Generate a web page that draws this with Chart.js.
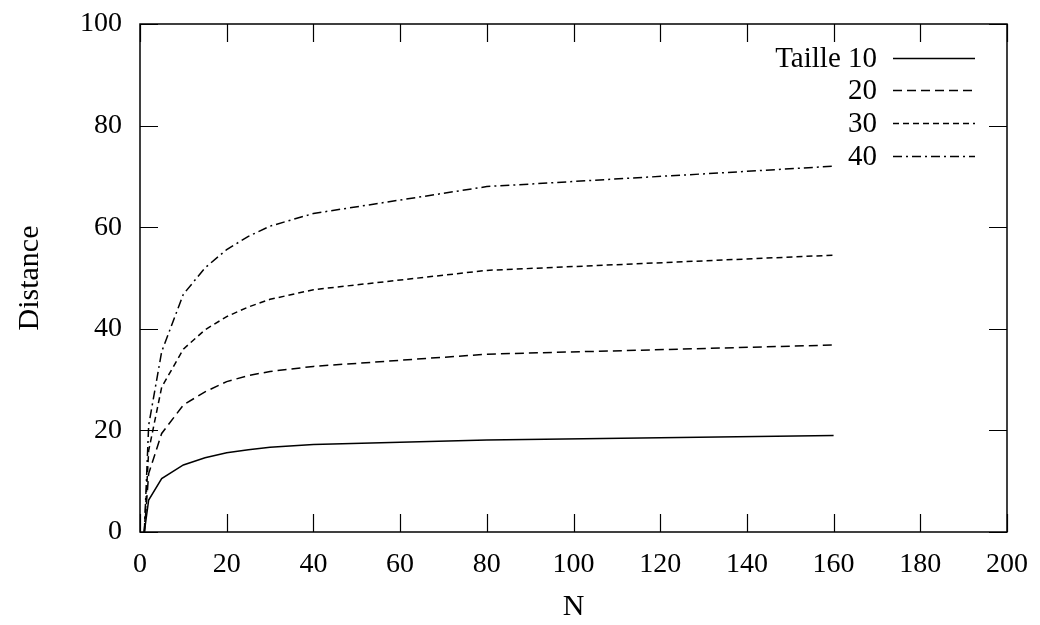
<!DOCTYPE html>
<html lang="fr">
<head>
<meta charset="UTF-8">
<title>Distance en fonction de N</title>
<script src="https://cdn.jsdelivr.net/npm/chart.js"></script>
<style>
  html, body { margin: 0; padding: 0; background: #fff; }
  #wrap { width: 1040px; height: 625px; }
</style>
</head>
<body>
<div id="wrap"><canvas id="plot"></canvas></div>
<script>
// valeurs
const N = [1, 2, 5, 10, 15, 20, 25, 30, 40, 80, 160];
const taille10 = [0, 6.3, 10.5, 13.2, 14.6, 15.6, 16.2, 16.7, 17.2, 18.1, 19.0];
const taille20 = [0, 11.5, 19.4, 25.0, 27.6, 29.6, 30.8, 31.6, 32.6, 35.0, 36.8];
const taille30 = [0, 16.0, 28.5, 36.0, 39.8, 42.4, 44.3, 45.8, 47.7, 51.5, 54.5];
const taille40 = [0, 21.0, 35.5, 46.8, 52.0, 55.6, 58.2, 60.2, 62.7, 68.0, 72.0];
const legendLabels = ['Taille 10', '20', '30', '40'];

const FONT = 'Liberation Serif';
const dashes = [[], [9, 5], [6, 4], [9, 4, 2, 4]];

function toPoints(ys) {
  return N.map((n, i) => ({ x: n, y: ys[i] }));
}

// cadre, graduations intérieures (façon gnuplot) et légende
const framePlugin = {
  id: 'frame',
  afterDraw(chart) {
    const ctx = chart.ctx;
    const a = chart.chartArea;
    const xs = chart.scales.x, ys = chart.scales.y;
    const tl = 18;
    ctx.save();
    ctx.strokeStyle = '#000';
    ctx.lineWidth = 1.2;
    ctx.beginPath();
    xs.ticks.forEach(t => {
      const px = Math.round(xs.getPixelForValue(t.value)) + 0.5;
      ctx.moveTo(px, a.bottom); ctx.lineTo(px, a.bottom - tl);
      ctx.moveTo(px, a.top); ctx.lineTo(px, a.top + tl);
    });
    ys.ticks.forEach(t => {
      const py = Math.round(ys.getPixelForValue(t.value)) + 0.5;
      ctx.moveTo(a.left, py); ctx.lineTo(a.left + tl, py);
      ctx.moveTo(a.right, py); ctx.lineTo(a.right - tl, py);
    });
    ctx.stroke();
    ctx.lineWidth = 1.5;
    ctx.strokeRect(a.left, a.top, a.right - a.left, a.bottom - a.top);

    // légende
    const rows = [58, 90, 123, 156];
    ctx.font = '29px "' + FONT + '"';
    ctx.fillStyle = '#000';
    ctx.textAlign = 'right';
    ctx.textBaseline = 'middle';
    chart.data.datasets.forEach((ds, i) => {
      const y = rows[i];
      ctx.fillText(legendLabels[i], 877, y + 1);
      ctx.beginPath();
      ctx.setLineDash(ds.borderDash || []);
      ctx.lineWidth = 1.5;
      ctx.moveTo(893, y + 0.5);
      ctx.lineTo(975, y + 0.5);
      ctx.stroke();
    });
    ctx.restore();
  }
};

const line = (data, i) => ({
  label: legendLabels[i],
  data: toPoints(data),
  borderColor: '#000',
  borderWidth: 1.5,
  borderDash: dashes[i],
  pointRadius: 0,
  tension: 0,
  fill: false
});

new Chart(document.getElementById('plot'), {
  type: 'line',
  data: {
    datasets: [line(taille10, 0), line(taille20, 1), line(taille30, 2), line(taille40, 3)]
  },
  options: {
    responsive: true,
    maintainAspectRatio: false,
    animation: false,
    layout: { padding: { top: 24, right: 33, left: 0, bottom: 0 } },
    plugins: { legend: { display: false }, tooltip: { enabled: false } },
    scales: {
      x: {
        type: 'linear',
        min: 0, max: 200,
        afterFit: s => { s.height = 93; s.paddingLeft = 0; s.paddingRight = 0; },
        grid: { display: false, drawTicks: false },
        border: { display: false },
        ticks: {
          stepSize: 20,
          padding: 16,
          color: '#000',
          font: { family: FONT, size: 28 },
          maxRotation: 0
        },
        title: {
          display: true, text: 'N', color: '#000',
          font: { family: FONT, size: 30 },
          padding: { top: 3, bottom: 0 }
        }
      },
      y: {
        min: 0, max: 100,
        afterFit: s => { s.width = 140; s.paddingTop = 0; s.paddingBottom = 0; },
        grid: { display: false, drawTicks: false },
        border: { display: false },
        ticks: {
          stepSize: 20,
          padding: 18,
          color: '#000',
          font: { family: FONT, size: 28 }
        },
        title: {
          display: true, text: 'Distance', color: '#000',
          font: { family: FONT, size: 30 },
          padding: { top: 12, bottom: 0 }
        }
      }
    }
  },
  plugins: [framePlugin]
});
</script>
</body>
</html>
